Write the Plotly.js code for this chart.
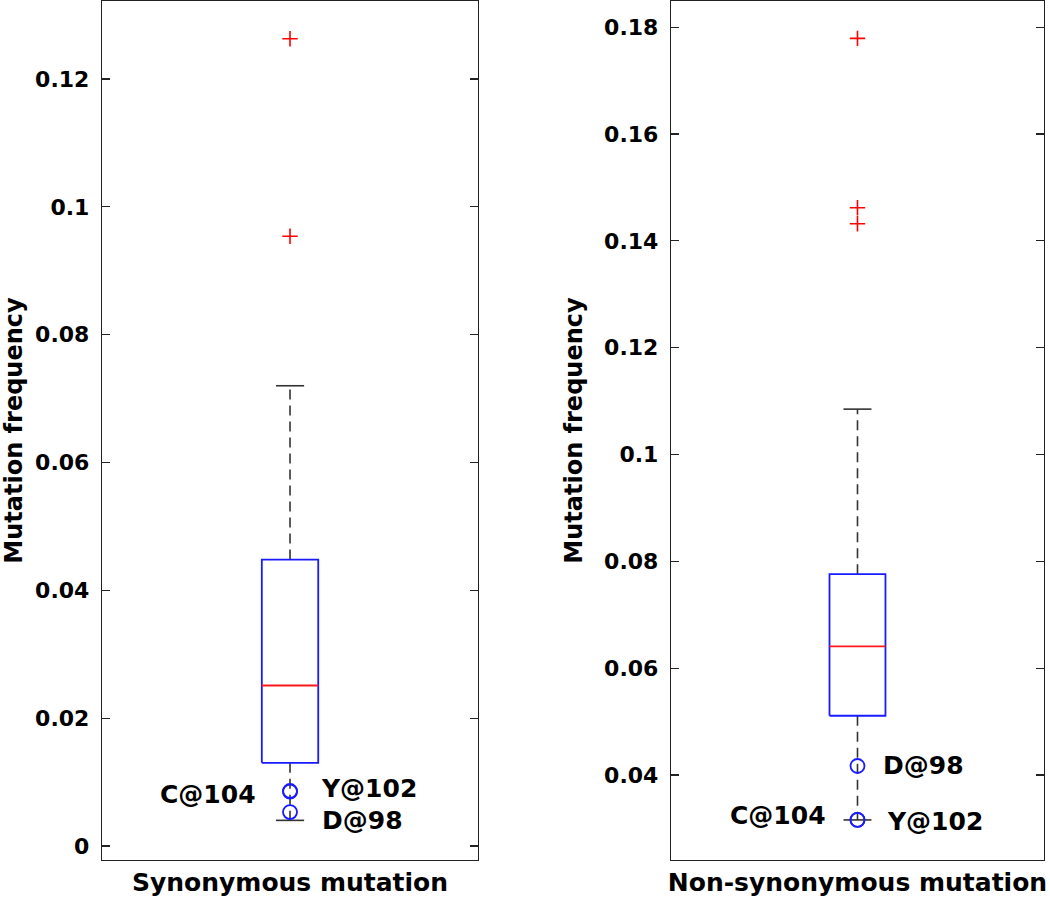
<!DOCTYPE html>
<html>
<head>
<meta charset="utf-8">
<script src="https://cdn.plot.ly/plotly-3.0.1.min.js"></script>
<style>html,body{margin:0;padding:0;background:#fff;}#chart{width:1050px;height:898px;}</style>
</head>
<body>
<div id="chart"></div>
<script>
// ---- data ----
const categories = ['Synonymous mutation', 'Non-synonymous mutation'];
const q1Values = [0.0130, 0.0511];
const medianValues = [0.0251, 0.0641];
const q3Values = [0.0448, 0.0776];
const lowerWhiskerValues = [0.0040, 0.0316];
const upperWhiskerValues = [0.0720, 0.1085];
const outliersSynonymous = [0.1263, 0.0954];
const outliersNonSynonymous = [0.1779, 0.1462, 0.1432];
const siteLabels = ['C@104', 'Y@102', 'D@98'];
const siteSynonymous = [0.0086, 0.0085, 0.0053];
const siteNonSynonymous = [0.0316, 0.0316, 0.0417];
const yTickValuesSyn = [0, 0.02, 0.04, 0.06, 0.08, 0.1, 0.12];
const yTickValuesNon = [0.04, 0.06, 0.08, 0.1, 0.12, 0.14, 0.16, 0.18];

// ---- styling ----
const FONT = 'DejaVu Sans, Liberation Sans, Arial, sans-serif';
const boxHalf = 0.075, capHalf = 0.0375, center = 1;
const outlierSets = [outliersSynonymous, outliersNonSynonymous];
const siteSets = [siteSynonymous, siteNonSynonymous];
const axisColor = '#222';
const BLUE = '#1a1aff', RED = '#ff0000', DARK = '#333';

const traces = [];
for (let i = 0; i < 2; i++) {
  const xa = i === 0 ? 'x' : 'x2', ya = i === 0 ? 'y' : 'y2';
  const c = center;
  traces.push({ // dashed whiskers
    type: 'scatter', mode: 'lines', xaxis: xa, yaxis: ya, hoverinfo: 'skip',
    x: [c, c, null, c, c],
    y: [q3Values[i], upperWhiskerValues[i], null, q1Values[i], lowerWhiskerValues[i]],
    line: { color: DARK, width: 1.6, dash: '10px,6px' }
  });
  traces.push({ // caps
    type: 'scatter', mode: 'lines', xaxis: xa, yaxis: ya, hoverinfo: 'skip',
    x: [c - capHalf, c + capHalf, null, c - capHalf, c + capHalf],
    y: [upperWhiskerValues[i], upperWhiskerValues[i], null, lowerWhiskerValues[i], lowerWhiskerValues[i]],
    line: { color: DARK, width: 1.6 }
  });
  traces.push({ // box
    type: 'scatter', mode: 'lines', xaxis: xa, yaxis: ya, name: categories[i],
    x: [c - boxHalf, c + boxHalf, c + boxHalf, c - boxHalf, c - boxHalf],
    y: [q1Values[i], q1Values[i], q3Values[i], q3Values[i], q1Values[i]],
    line: { color: BLUE, width: 1.8 }
  });
  traces.push({ // median
    type: 'scatter', mode: 'lines', xaxis: xa, yaxis: ya, hoverinfo: 'skip',
    x: [c - boxHalf, c + boxHalf],
    y: [medianValues[i], medianValues[i]],
    line: { color: '#ff1a1a', width: 1.8 }
  });
  traces.push({ // outliers
    type: 'scatter', mode: 'markers', xaxis: xa, yaxis: ya,
    x: outlierSets[i].map(() => c), y: outlierSets[i],
    marker: { symbol: 'cross-thin-open', size: 11, color: RED, line: { color: RED, width: 1.6 } }
  });
  traces.push({ // labelled sites
    type: 'scatter', mode: 'markers', xaxis: xa, yaxis: ya, text: siteLabels,
    x: siteSets[i].map(() => c), y: siteSets[i],
    marker: { symbol: 'circle-open', size: 14, color: BLUE, line: { color: BLUE, width: 1.8 } }
  });
}

// label placement (offsets in px relative to each point)
const labelOffsets = [
  [ { xanchor: 'right', xshift: -32, yshift: -4 }, { xanchor: 'left', xshift: 29, yshift: 3 }, { xanchor: 'left', xshift: 30, yshift: -8 } ],
  [ { xanchor: 'right', xshift: -29, yshift: 4 }, { xanchor: 'left', xshift: 28, yshift: -2 }, { xanchor: 'left', xshift: 24, yshift: 0 } ]
];
const annotations = [];
for (let i = 0; i < 2; i++) {
  siteLabels.forEach((lab, k) => {
    const o = labelOffsets[i][k];
    annotations.push({
      xref: i === 0 ? 'x' : 'x2', yref: i === 0 ? 'y' : 'y2',
      x: center, y: siteSets[i][k], text: lab, showarrow: false,
      xanchor: o.xanchor, yanchor: 'middle', xshift: o.xshift, yshift: o.yshift,
      font: { family: FONT, size: 25, color: '#000', weight: 700 }
    });
  });
}

const tickFont = { family: FONT, size: 22, color: '#000', weight: 700 };
const titleFont = { family: FONT, size: 24, color: '#000', weight: 700 };
function xAxis(domain, label, anchor) {
  return {
    domain: domain, anchor: anchor, range: [0.5, 1.5], tickvals: [1], ticktext: [label],
    ticks: '', showgrid: false, zeroline: false, showline: true, mirror: true,
    linecolor: axisColor, linewidth: 1.2, tickfont: { family: FONT, size: 25, color: '#000', weight: 700 },
    ticklabelstandoff: 0, automargin: false, fixedrange: true
  };
}
function yAxis(range, tickvals, anchor) {
  return {
    anchor: anchor, range: range, tickvals: tickvals, ticks: 'inside', ticklen: 8, tickwidth: 1.2,
    tickcolor: axisColor, showgrid: false, zeroline: false, showline: true, mirror: 'ticks',
    linecolor: axisColor, linewidth: 1.2, tickfont: tickFont, ticklabelstandoff: 7,
    title: { text: 'Mutation frequency', font: titleFont, standoff: 14 },
    automargin: false, fixedrange: true
  };
}

const layout = {
  width: 1050, height: 898, showlegend: false,
  paper_bgcolor: '#fff', plot_bgcolor: '#fff',
  margin: { l: 102, r: 6, t: 1, b: 38 },
  xaxis: xAxis([0, 0.3992], categories[0], 'y'),
  xaxis2: xAxis([0.604, 1], categories[1], 'y2'),
  yaxis: yAxis([-0.0022, 0.1322], yTickValuesSyn, 'x'),
  yaxis2: yAxis([0.0241, 0.1849], yTickValuesNon, 'x2'),
  annotations: annotations
};

Plotly.newPlot('chart', traces, layout, { displayModeBar: false, staticPlot: true });
</script>
</body>
</html>
